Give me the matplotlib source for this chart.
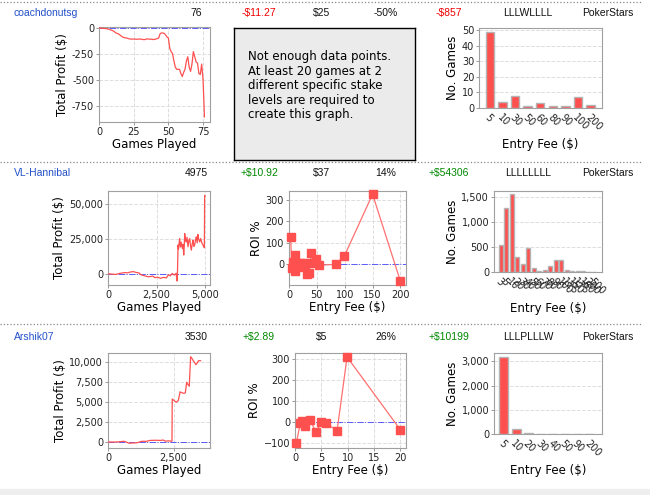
import matplotlib
matplotlib.use('Agg')
import matplotlib.pyplot as plt
from matplotlib.ticker import FuncFormatter, FixedLocator

# ---- datos de la tabla ----
nombres = ['coachdonutsg', 'VL-Hannibal', 'Arshik07']
juegos = ['76', '4975', '3530']
promedio = ['-$11.27', '+$10.92', '+$2.89']
entrada = ['$25', '$37', '$5']
roi_txt = ['-50%', '14%', '26%']
total = ['-$857', '+$54306', '+$10199']
racha = ['LLLWLLLL', 'LLLLLLLL', 'LLLPLLLW']
sala = ['PokerStars', 'PokerStars', 'PokerStars']

# ---- fila 1: beneficio total ----
g1 = list(range(0, 77))
p1 = [0, -5, -5, -8, -8, -10, -12, -15, -20, -25, -30, -38, -50, -55, -60, -70, -80, -90, -95, -98,
      -100, -105, -108, -110, -110, -110, -110, -112, -110, -110, -110, -112, -115, -115, -110, -108,
      -110, -112, -110, -115, -112, -110, -105, -100, -60, -50, -52, -55, -70, -90, -100, -200, -230,
      -250, -320, -380, -400, -400, -400, -440, -470, -430, -400, -320, -280, -380, -420, -350, -230,
      -280, -330, -340, -440, -450, -350, -500, -857]
fee1 = ['5', '10', '30', '50', '60', '80', '90', '100', '200']
cnt1 = [49, 4, 8, 1, 3, 1, 1, 7, 2]

# ---- fila 2 ----
g2 = [0, 200, 400, 600, 850, 1000, 1150, 1300, 1450, 1600, 1700, 1800, 1950, 2100, 2300, 2400,
      2550, 2700, 2850, 3000, 3100, 3200, 3300, 3400, 3500, 3545, 3560, 3600, 3620, 3650, 3680,
      3720, 3760, 3820, 3860, 3890, 3920, 3940, 3980, 4020, 4060, 4110, 4150, 4200, 4240, 4280,
      4330, 4370, 4410, 4450, 4500, 4540, 4580, 4620, 4660, 4710, 4760, 4800, 4830, 4880, 4930,
      4950, 4965, 4975]
p2 = [0, -300, -500, 200, 800, 600, 1200, 1500, 900, 500, -800, -1200, -1800, -2200, -1700, -2800,
      -2500, -3300, -2600, -3000, -800, -1500, 200, -1000, 300, -5200, -4800, 20400, 17500, 21600,
      25000, 19000, 22500, 18000, 21000, 13300, 20500, 28700, 24000, 22700, 26000, 19200, 23500,
      25100, 20000, 16800, 21500, 23900, 19500, 20400, 24500, 26300, 22000, 28000, 24500, 22700,
      25100, 23000, 21600, 20400, 19200, 18500, 55900, 55500]
fee2_x = [3, 5, 7, 10, 10, 13, 16, 20, 22, 25, 28, 32, 35, 38, 40, 49, 54, 84, 99, 150, 200]
roi2 = [125, -15, 10, 46, -31, 5, -10, 8, 0, 5, -5, -46, -40, 5, 54, 25, -3, 0, 37, 325, -78]
fee2 = ['3', '5', '10', '20', '30', '40', '50', '60', '70', '80', '90', '100', '125', '150', '175',
        '180', '200', '500']
cnt2 = [547, 1280, 1567, 307, 160, 487, 87, 15, 47, 113, 247, 247, 40, 20, 20, 20, 0]
cnt2 = cnt2 + [2]

# ---- fila 3 ----
g3 = [0, 300, 500, 600, 700, 800, 950, 1100, 1200, 1300, 1450, 1600, 1800, 2000, 2100, 2200,
      2300, 2440, 2450, 2520, 2600, 2680, 2750, 2800, 2900, 2950, 3000, 3050, 3100, 3150, 3200,
      3250, 3300, 3350, 3400, 3450, 3530]
p3 = [0, 0, 50, 100, 0, -150, -120, -100, 0, 100, 80, 200, 220, 200, 250, 100, 150, 100, 5400,
      5200, 5000, 5200, 6300, 6200, 6100, 6200, 7500, 7200, 7000, 10700, 10500, 10200, 10000,
      9700, 9900, 10200, 10200]
fee3_x = [0.25, 1, 1.4, 1.9, 2.86, 4, 5, 5.9, 8, 9.9, 20]
roi3 = [-100, -5, 6, -16, 11, -47, 0, -5, -40, 308, -35]
fee3 = ['5', '10', '20', '30', '40', '50', '90', '200']
cnt3 = [3200, 220, 60, 20, 5, 20, 5, 5]

W, H = 650, 495
fig = plt.figure(figsize=(6.5, 4.95), dpi=100)

def caja(l, t, r, b):
    # convierte pixeles (arriba-izquierda) a coordenadas de figura
    return [l / W, 1 - b / H, (r - l) / W, (b - t) / H]

def fy(y):
    return 1 - y / H

ROJO = '#ff5050'
comas = FuncFormatter(lambda v, p: '{:,.0f}'.format(v))

def estilo(ax, rejilla_x=True):
    for s in ax.spines.values():
        s.set_color('#a0a0a0')
        s.set_linewidth(0.8)
    ax.tick_params(labelsize=7, length=2, width=0.6, color='#888888', pad=1.5, labelcolor='#222222')
    ax.grid(axis='y', linestyle='--', color='#dddddd', linewidth=0.7)
    if rejilla_x:
        ax.grid(axis='x', linestyle='--', color='#dddddd', linewidth=0.7)
    ax.set_axisbelow(True)

def grafica_beneficio(rect, g, p, xlim, ylim, xt, yt):
    ax = fig.add_axes(caja(*rect))
    ax.plot(g, p, color=ROJO, linewidth=0.9, zorder=3)
    ax.axhline(0, color='#5a5aff', linestyle='-.', linewidth=0.7, zorder=2)
    ax.set_xlim(*xlim)
    ax.set_ylim(*ylim)
    ax.set_xticks(xt)
    ax.set_yticks(yt)
    ax.xaxis.set_major_formatter(comas)
    ax.yaxis.set_major_formatter(comas)
    ax.set_xlabel('Games Played', fontsize=8.5, labelpad=1)
    ax.set_ylabel('Total Profit ($)', fontsize=8.5, labelpad=2)
    estilo(ax)
    return ax

def grafica_roi(rect, x, y, xlim, ylim, xt, yt):
    ax = fig.add_axes(caja(*rect))
    orden = sorted(range(len(x)), key=lambda i: x[i])
    xs = [x[i] for i in orden]
    ys = [y[i] for i in orden]
    ax.plot(xs, ys, color='#ff7070', linewidth=0.9, zorder=3)
    ax.plot(xs, ys, 's', color=ROJO, markersize=6, zorder=4, clip_on=False)
    ax.axhline(0, color='#5a5aff', linestyle='-.', linewidth=0.7, zorder=2)
    ax.set_xlim(*xlim)
    ax.set_ylim(*ylim)
    ax.set_xticks(xt)
    ax.set_yticks(yt)
    ax.set_xlabel('Entry Fee ($)', fontsize=8.5, labelpad=1)
    ax.set_ylabel('ROI %', fontsize=8.5, labelpad=2)
    estilo(ax)
    return ax

def grafica_hist(rect, etiquetas, valores, xlim, ylim, yt, ancho):
    ax = fig.add_axes(caja(*rect))
    pos = list(range(len(valores)))
    ax.bar(pos, valores, width=ancho, color=ROJO, edgecolor='#b4b4b4', linewidth=1, zorder=3)
    ax.set_xlim(*xlim)
    ax.set_ylim(*ylim)
    ax.xaxis.set_major_locator(FixedLocator(pos))
    ax.set_xticklabels(etiquetas, rotation=-45, ha='left', va='top', rotation_mode='anchor')
    ax.set_yticks(yt)
    ax.yaxis.set_major_formatter(comas)
    ax.set_xlabel('Entry Fee ($)', fontsize=8.5, labelpad=4)
    ax.set_ylabel('No. Games', fontsize=8.5, labelpad=2)
    estilo(ax, rejilla_x=False)
    ax.tick_params(axis='x', length=0, pad=3)
    return ax

# ---- encabezados de cada fila ----
filas_y = [13, 173, 337]
columnas = [196, 259, 322, 386, 449, 528, 608]
for i in range(3):
    y = fy(filas_y[i])
    fig.text(14 / W, y, nombres[i], color='#2250c8', fontsize=7.5, family='Liberation Sans', va='center')
    valores = [juegos[i], promedio[i], entrada[i], roi_txt[i], total[i], racha[i], sala[i]]
    for j, v in enumerate(valores):
        color = '#111111'
        if j in (1, 4):
            color = '#ee0000' if v.startswith('-') else '#008800'
        fig.text(columnas[j] / W, y, v, color=color, fontsize=7.5, family='Liberation Sans',
                 ha='center', va='center')

# lineas punteadas separadoras
for yy in [2, 162, 324]:
    fig.add_artist(plt.Line2D([0, 641 / W], [fy(yy), fy(yy)], color='#888888', linestyle=':',
                              linewidth=0.9))

# franja gris inferior
fig.add_artist(plt.Rectangle((0, 0), 1, 6 / H, color='#eeeeee', zorder=0))

# ---- fila 1 ----
grafica_beneficio((99, 27, 210, 122), g1, p1, (0, 80), (-906, 6), [0, 25, 50, 75], [0, -250, -500, -750])
cuadro = fig.add_axes(caja(234, 28, 415, 160))
cuadro.set_facecolor('#ebebeb')
cuadro.set_xticks([])
cuadro.set_yticks([])
for s in cuadro.spines.values():
    s.set_color('black')
    s.set_linewidth(1)
cuadro.text(14 / 181, 1 - 22 / 132,
            'Not enough data points.\nAt least 20 games at 2\ndifferent specific stake\nlevels are required to\ncreate this graph.',
            transform=cuadro.transAxes, fontsize=8.5, va='top', ha='left', linespacing=1.15)
grafica_hist((479, 28, 602, 108), fee1, cnt1, (-0.85, 8.9), (0, 51.5), [0, 10, 20, 30, 40, 50], 0.66)

# ---- fila 2 ----
grafica_beneficio((108, 191, 210, 285), g2, p2, (0, 5240), (-8060, 59000), [0, 2500, 5000], [0, 25000, 50000])
grafica_roi((289, 191, 406, 285), fee2_x, roi2, (0, 210), (-95, 340), [0, 50, 100, 150, 200], [0, 100, 200, 300])
grafica_hist((494, 191, 602, 272), fee2, cnt2, (-1.2, 18.4), (0, 1620), [0, 500, 1000, 1500], 0.7)

# ---- fila 3 ----
grafica_beneficio((108, 353, 210, 448), g3, p3, (0, 3890), (-750, 11170), [0, 2500], [0, 2500, 5000, 7500, 10000])
grafica_roi((295, 353, 406, 448), fee3_x, roi3, (0, 21.1), (-122, 327), [0, 5, 10, 15, 20], [-100, 0, 100, 200, 300])
grafica_hist((494, 353, 602, 434), fee3, cnt3, (-0.8, 8.0), (0, 3345), [0, 1000, 2000, 3000], 0.73)

fig.savefig('out.png', dpi=100)
